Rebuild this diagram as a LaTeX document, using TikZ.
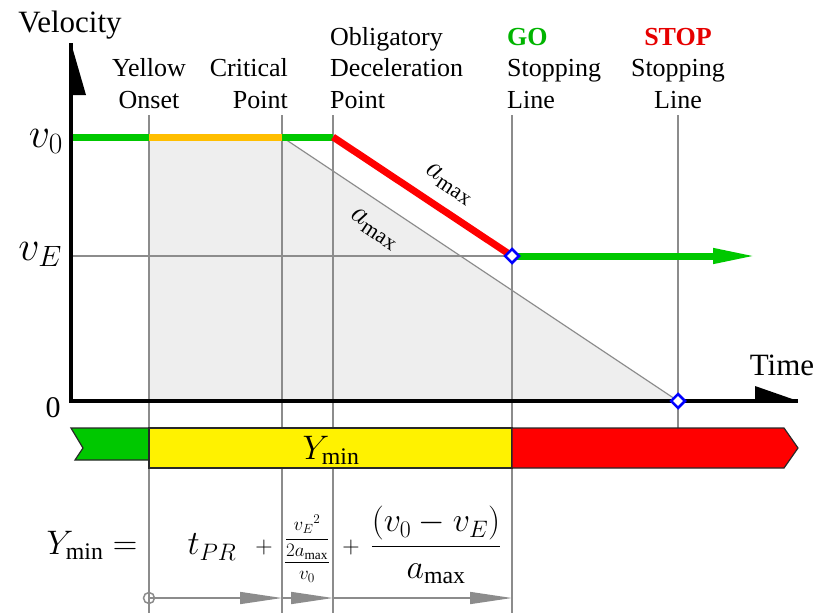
\RequirePackage{fix-cm}
\documentclass[tikz,border=0pt]{standalone}
\usepackage{amsmath}
\usepackage{fontspec}
\setmainfont{Liberation Serif}
\usepackage{tikz}
\usetikzlibrary{shapes.geometric, arrows.meta, positioning, calc}
\definecolor{guidegray}{RGB}{140,140,140}
\definecolor{fillgray}{RGB}{238,238,238}
\definecolor{gogreen}{RGB}{0,200,0}
\definecolor{amber}{RGB}{255,190,0}
\definecolor{stopred}{RGB}{255,0,0}
\definecolor{mkblue}{RGB}{0,0,255}
\definecolor{bandedge}{RGB}{40,40,40}
\definecolor{golabel}{RGB}{0,180,0}
\definecolor{stoplabel}{RGB}{230,0,0}
\newcommand{\lblfont}{\fontsize{26}{31.5}\selectfont}
\newcommand{\axfont}{\fontsize{31}{34}\selectfont}
\newcommand{\vfont}{\fontsize{42}{44}\selectfont}
\newcommand{\eqfont}{\fontsize{34}{38}\selectfont}
\tikzset{
  guide/.style={draw=guidegray, line width=1.2pt},
  track/.style={line width=7pt},
  axis/.style={line width=3.5pt, black, line join=miter},
  lbl/.style={font=\lblfont, inner sep=0pt, anchor=base},
  marker/.style={diamond, draw=mkblue, fill=white, line width=2.5pt,
    minimum size=15pt, inner sep=0pt},
  seg/.style={draw=guidegray, line width=1.5pt,
    -{Triangle[length=42pt, width=12pt]}},
  band/.style={draw=bandedge, line width=1.2pt},
  slope/.style={rotate=-33.6, font=\fontsize{31}{33}\selectfont, inner sep=1pt}
}

\begin{document}
\begin{tikzpicture}[x=1pt, y=-1pt]
  \useasboundingbox (0,0) rectangle (818,613);
  % Key points
  \coordinate (o) at (71,401);
  \coordinate (ytip) at (71,43);
  \coordinate (xtip) at (798,401);
  \coordinate (v0) at (71,137);
  \coordinate (vE) at (71,256);
  \coordinate (yo) at (149,137);
  \coordinate (cp) at (282,137);
  \coordinate (odp) at (333,137);
  \coordinate (go) at (512,256);
  \coordinate (stop) at (678,401);
  \coordinate (goend) at (758,256);
  \coordinate (top) at (0,115);
  \coordinate (bot) at (0,613);
  \coordinate (bandtop) at (0,428);
  \coordinate (bandbot) at (0,468);
  \coordinate (segy) at (0,598);

  % Shaded area
  \fill[fillgray] (yo) -- (cp) -- (stop) -- (yo |- o) -- cycle;

  % Guide lines
  \draw[guide] (vE) -- (go);
  \foreach \p in {yo, cp, odp, go}
    \draw[guide] (\p |- top) -- (\p |- bot);
  \draw[guide] (stop |- top) -- (stop |- bandtop);
  \draw[guide] (cp) -- (stop);

  % Speed profile
  \draw[track, gogreen] (v0) -- (yo);
  \draw[track, amber] (yo) -- (cp);
  \draw[track, gogreen] (cp) -- (odp);
  \draw[track, stopred] (odp) -- (go);
  \draw[track, gogreen, -{Triangle[length=45pt, width=14pt]}] (go) -- (goend);

  \node[slope] (amaxR) at (449,184) {$a_{\max}$};
  \node[slope] (amaxG) at (374,229) {$a_{\max}$};

  % Axes
  \draw[axis] (ytip) -- (o) -- (xtip);
  \fill (ytip) -- ++(15,52) -- ++(-15,0) -- cycle;
  \fill (xtip) -- ++(-43,-15) -- ++(0,15) -- cycle;
  \node[font=\axfont, anchor=base] (vel) at (70,32) {Velocity};
  \node[font=\axfont, anchor=base] (time) at (782,375) {Time};
  \node[font=\vfont, inner sep=0pt, anchor=base east] (lv0) at (63,147) {$v_0$};
  \node[font=\vfont, inner sep=0pt, anchor=base east] (lvE) at (62,260) {$v_E$};
  \node[font=\fontsize{30}{32}\selectfont, inner sep=0pt, anchor=base] (lzero) at (53,417) {0};

  % Markers
  \node[marker] (mgo) at (go) {};
  \node[marker] (mstop) at (stop) {};

  % Event labels
  \node[lbl, align=center] (lyo) at (149,108) {Yellow\\Onset};
  \node[lbl, align=right, anchor=base east] (lcp) at (288,108) {Critical\\Point};
  \node[lbl, align=left, anchor=base west] (lodp) at (330,108) {Obligatory\\Deceleration\\Point};
  \node[lbl, align=left, anchor=base west] (lgo) at (507,108) {\textbf{\color{golabel}GO}\\Stopping\\Line};
  \node[lbl, align=center] (lstop) at (678,108) {\textbf{\color{stoplabel}STOP}\\Stopping\\Line};

  % Signal band
  \draw[band, fill=gogreen] (71,428) -- (yo |- bandtop) -- (149,460) -- (75,460) -- (83,448) -- cycle;
  \draw[band, fill=yellow] (yo |- bandtop) rectangle (go |- bandbot);
  \draw[band, fill=stopred] (go |- bandtop) -- (784,428) -- (798,448) -- (784,468) -- (go |- bandbot) -- cycle;
  \node[font=\eqfont] (ymin) at (331,450) {$Y_{\min}$};

  % Formula
  \node[font=\eqfont] (eqY) at (92,545) {$Y_{\min} =$};
  \node[font=\eqfont] (tpr) at (212,547) {$t_{PR}$};
  \node[font=\fontsize{24}{26}\selectfont] (plus1) at (264,547) {$+$};
  \node[font=\fontsize{19}{21}\selectfont, inner sep=0pt] (frac1) at (307,549) {$\dfrac{\dfrac{{v_E}^{2}}{2a_{\max}}}{v_0}$};
  \node[font=\fontsize{24}{26}\selectfont] (plus2) at (351,547) {$+$};
  \node[font=\eqfont] (frac2) at (436,545) {$\dfrac{\left(v_0 - v_E\right)}{a_{\max}}$};

  % Time segments
  \node[circle, draw=guidegray, line width=1.5pt, minimum size=11pt, inner sep=0pt] (t0) at (yo |- segy) {};
  \draw[seg] (t0.center) -- (cp |- segy);
  \draw[seg] (cp |- segy) -- (odp |- segy);
  \draw[seg] (odp |- segy) -- (go |- segy);
\end{tikzpicture}
\end{document}
